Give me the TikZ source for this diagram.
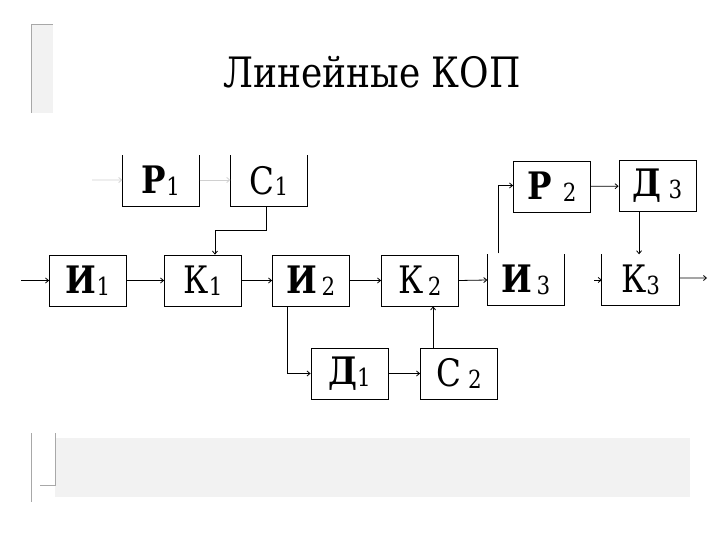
\documentclass[tikz,border=0pt]{standalone}
\usepackage{fontspec}
\setmainfont{DejaVu Serif}
\newfontfamily\tnr[FakeStretch=0.86]{DejaVu Serif}
\usetikzlibrary{arrows.meta}
\definecolor{frame}{HTML}{A8A8A8}
\definecolor{band}{HTML}{F2F2F2}
\definecolor{faint}{HTML}{D0D0D0}
\tikzset{
  blk/.style={draw, line width=0.8pt, minimum width=77bp, minimum height=51bp, inner sep=0pt},
  openblk/.style={minimum width=77bp, minimum height=51bp, inner sep=0pt},
  wire/.style={line width=0.8pt, -{Straight Barb[length=3bp,width=5bp]}},
  faintwire/.style={wire, draw=faint},
  ttl/.style={font=\tnr\fontsize{42}{46}\selectfont},
}
\newcommand\lbl[2]{{\tnr\fontsize{38}{40}\selectfont #1}\raisebox{-0.18em}{\tnr\fontsize{25}{27}\selectfont #2}}

\begin{document}
\begin{tikzpicture}[x=1bp,y=-1bp]
  \useasboundingbox (0,0) rectangle (720,540);
  % slide decoration
  \fill[band] (31,24) rectangle (53,113);
  \draw[frame, line width=0.8pt] (53,24) -- (31,24) -- (31,113);
  \fill[band] (55,438) rectangle (690,497);
  \draw[frame, line width=0.8pt] (31,433) -- (31,502);
  \draw[frame, line width=0.8pt] (55,433) -- (55,485) -- (40,485);

  \node[ttl] (title) at (372,72) {Линейные КОП};

  % blocks
  \node[openblk] (p1) at (161,181) {\lbl{\bfseries Р}{1}};
  \node[openblk] (c1) at (269,181) {\lbl{С}{1}};
  \node[blk] (i1) at (88,280.5) {\lbl{\bfseries И}{1}};
  \node[blk] (k1) at (203,280.5) {\lbl{К}{1}};
  \node[blk] (i2) at (311,280.5) {\lbl{\bfseries И}{\,2}};
  \node[blk] (k2) at (420,280.5) {\lbl{К}{\,2}};
  \node[openblk] (i3) at (526,280) {\lbl{\bfseries И}{\,3}};
  \node[openblk] (k3) at (640.5,280) {\lbl{К}{3}};
  \node[blk] (p2) at (552,186.5) {\lbl{\bfseries Р}{\;\,2}};
  \node[blk] (d3) at (657.5,186) {\lbl{\bfseries Д}{\;3}};
  \node[blk] (d1) at (349.5,373.5) {\lbl{\bfseries Д}{1}};
  \node[blk] (c2) at (459,373.5) {\lbl{С}{\;2}};

  % blocks with no top edge
  \foreach \b in {p1,c1,i3,k3}{
    \draw[line width=0.8pt] (\b.north west) -- (\b.south west) -- (\b.south east) -- (\b.north east);
  }

  \coordinate (in) at (21,280.5);
  \coordinate (p1in) at (92,180);
  \coordinate (k3in) at (594,280);
  \coordinate (out) at (707,278);

  % connectors
  \draw[wire] (in) -- (i1.west);
  \draw[wire] (i1) -- (k1);
  \draw[wire] (k1) -- (i2);
  \draw[wire] (i2) -- (k2);
  \draw[wire] (k2.east) -- (i3.west);
  \draw[wire] (k3in) -- (k3.west);
  \draw[wire] ([yshift=2]k3.east) -- (out);
  \draw[faintwire] (p1in) -- ([yshift=1]p1.west);
  \draw[faintwire] ([yshift=1]p1.east) -- ([yshift=1]c1.west);
  \draw[wire] ([xshift=-3]c1.south) -- ++(0,24) -| ([xshift=12]k1.north);
  \draw[wire] ([xshift=-24]i2.south) |- (d1.west);
  \draw[wire] (d1) -- (c2);
  \draw[wire] ([xshift=-26]c2.north) -- ([xshift=-26]c2.north |- k2.south);
  \draw[wire] ([xshift=-28,yshift=1]i3.north) |- ([yshift=1]p2.west);
  \draw[wire] (p2) -- (d3);
  \draw[wire] ([xshift=-18.5]d3.south) -- ([xshift=-18.5]d3.south |- k3.north);
\end{tikzpicture}
\end{document}
